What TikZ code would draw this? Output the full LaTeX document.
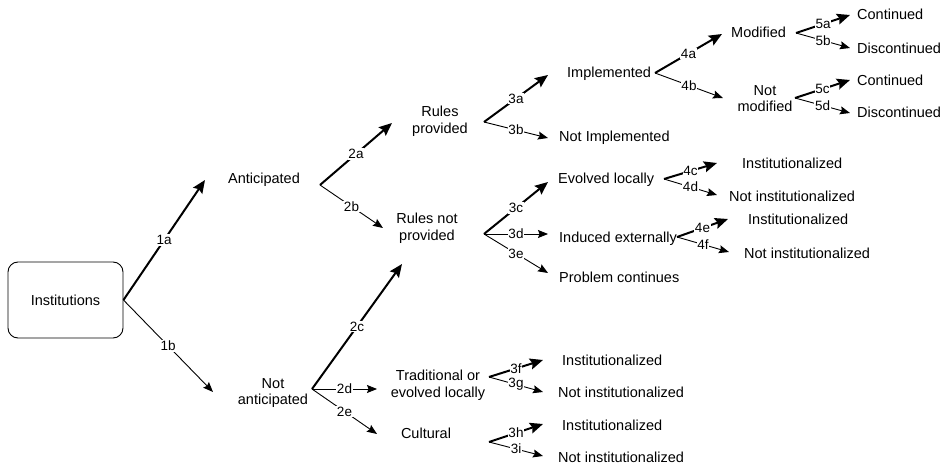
\documentclass[tikz,border=0pt]{standalone}
\usepackage{fontspec}
\setmainfont{Liberation Sans}
\usetikzlibrary{arrows.meta}
\tikzset{
  txt/.style={inner sep=0pt, font=\fontsize{14.5}{16.5}\selectfont, align=center},
  big/.style={line width=2pt, -{Stealth[length=13pt,width=11pt,inset=2pt]}},
  small/.style={line width=0.9pt, -{Stealth[length=10pt,width=8pt,inset=1.5pt]}},
  lbl/.style={fill=white, inner sep=0.8pt, font=\fontsize{13.5}{15}\selectfont},
  box/.style={draw, line width=0.9pt, rounded corners=10pt, minimum width=115pt, minimum height=76pt, inner sep=0pt, font=\fontsize{14.5}{16.5}\selectfont}
}
\begin{document}
\begin{tikzpicture}[x=1pt,y=-1pt]
\useasboundingbox (0,0) rectangle (943,468);
% nodes
\node[box] (inst) at (65.5,300) {Institutions};
\node[txt, anchor=base] (ant) at (264,184) {Anticipated};
\node[txt] (notant) at (273,393) {Not\\anticipated};
\node[txt] (rp) at (440,121.5) {Rules\\provided};
\node[txt] (rnp) at (427,228.5) {Rules not\\provided};
\node[txt] (trad) at (438,385) {Traditional or\\evolved locally};
\node[txt, anchor=base] (cult) at (426,438) {Cultural};
\node[txt, anchor=base west] (impl) at (567,78) {Implemented};
\node[txt, anchor=base west] (notimpl) at (559,142) {Not Implemented};
\node[txt, anchor=base west] (evl) at (558,184) {Evolved locally};
\node[txt, anchor=base west] (indext) at (559,242) {Induced externally};
\node[txt, anchor=base west] (probc) at (559,282) {Problem continues};
\node[txt, anchor=base west] (mod) at (731,38) {Modified};
\node[txt] (notmod) at (765,98.5) {Not\\modified};
\node[txt, anchor=base west] (c1) at (857,20) {Continued};
\node[txt, anchor=base west] (d1) at (857,54) {Discontinued};
\node[txt, anchor=base west] (c2) at (857,86) {Continued};
\node[txt, anchor=base west] (d2) at (857,118) {Discontinued};
\node[txt, anchor=base west] (i1) at (742,168) {Institutionalized};
\node[txt, anchor=base west] (ni1) at (729,201) {Not institutionalized};
\node[txt, anchor=base west] (i2) at (748,225) {Institutionalized};
\node[txt, anchor=base west] (ni2) at (744,258) {Not institutionalized};
\node[txt, anchor=base west] (i3) at (562,365) {Institutionalized};
\node[txt, anchor=base west] (ni3) at (558,397) {Not institutionalized};
\node[txt, anchor=base west] (i4) at (562,430) {Institutionalized};
\node[txt, anchor=base west] (ni4) at (558,462) {Not institutionalized};
% forks
\coordinate (f1) at (inst.east);
\coordinate (f2) at (320,185);
\coordinate (f2c) at (312,389);
\coordinate (f3ab) at (484,122);
\coordinate (f3cde) at (484,234);
\coordinate (f4ab) at (655,73);
\coordinate (f5ab) at (796,33);
\coordinate (f5cd) at (795,98);
\coordinate (f4cd) at (664,179);
\coordinate (f4ef) at (677,237);
\coordinate (f3fg) at (489,377);
\coordinate (f3hi) at (489,442);
% tips
\coordinate (t1a) at (205,180);
\coordinate (t1b) at (213,392);
\coordinate (t2a) at (392,123);
\coordinate (t2b) at (383,228);
\coordinate (t2c) at (402,264);
\coordinate (t2d) at (377,389);
\coordinate (t2e) at (377,434);
\coordinate (t3a) at (548,75);
\coordinate (t3b) at (548,138);
\coordinate (t3c) at (548,182);
\coordinate (t3d) at (548,234);
\coordinate (t3e) at (548,273);
\coordinate (t4a) at (722,34);
\coordinate (t4b) at (723,98);
\coordinate (t5a) at (850,15);
\coordinate (t5b) at (850,48);
\coordinate (t5c) at (850,80);
\coordinate (t5d) at (850,113);
\coordinate (t4c) at (717,163);
\coordinate (t4d) at (717,195);
\coordinate (t4e) at (728,219);
\coordinate (t4f) at (729,252);
\coordinate (t3f) at (543,360);
\coordinate (t3g) at (543,392);
\coordinate (t3h) at (543,424);
\coordinate (t3i) at (543,456);
% connectors
\draw[big] (f1) -- node[lbl]{1a} (t1a);
\draw[small] (f1) -- node[lbl]{1b} (t1b);
\draw[big] (f2) -- node[lbl]{2a} (t2a);
\draw[small] (f2) -- node[lbl]{2b} (t2b);
\draw[big] (f2c) -- node[lbl]{2c} (t2c);
\draw[small] (f2c) -- node[lbl]{2d} (t2d);
\draw[small] (f2c) -- node[lbl]{2e} (t2e);
\draw[big] (f3ab) -- node[lbl]{3a} (t3a);
\draw[small] (f3ab) -- node[lbl]{3b} (t3b);
\draw[big] (f3cde) -- node[lbl]{3c} (t3c);
\draw[small] (f3cde) -- node[lbl]{3d} (t3d);
\draw[small] (f3cde) -- node[lbl]{3e} (t3e);
\draw[big] (f4ab) -- node[lbl]{4a} (t4a);
\draw[small] (f4ab) -- node[lbl]{4b} (t4b);
\draw[big] (f5ab) -- node[lbl]{5a} (t5a);
\draw[small] (f5ab) -- node[lbl]{5b} (t5b);
\draw[big] (f5cd) -- node[lbl]{5c} (t5c);
\draw[small] (f5cd) -- node[lbl]{5d} (t5d);
\draw[big] (f4cd) -- node[lbl]{4c} (t4c);
\draw[small] (f4cd) -- node[lbl]{4d} (t4d);
\draw[big] (f4ef) -- node[lbl]{4e} (t4e);
\draw[small] (f4ef) -- node[lbl]{4f} (t4f);
\draw[big] (f3fg) -- node[lbl]{3f} (t3f);
\draw[small] (f3fg) -- node[lbl]{3g} (t3g);
\draw[big] (f3hi) -- node[lbl]{3h} (t3h);
\draw[small] (f3hi) -- node[lbl]{3i} (t3i);
\end{tikzpicture}
\end{document}
